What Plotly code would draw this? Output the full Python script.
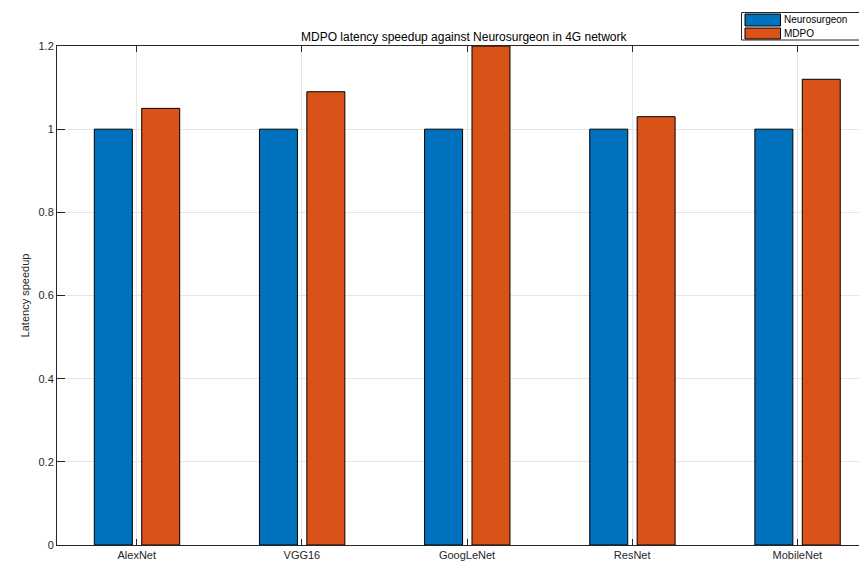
import plotly.graph_objects as go

categories = ["AlexNet", "VGG16", "GoogLeNet", "ResNet", "MobileNet"]
neurosurgeon = [1.0, 1.0, 1.0, 1.0, 1.0]
mdpo = [1.05, 1.09, 1.2, 1.03, 1.12]
series_names = ["Neurosurgeon", "MDPO"]
colors = ["#0072BD", "#D95319"]
yticks = [0, 0.2, 0.4, 0.6, 0.8, 1.0, 1.2]

# page body has an 8px default margin; work in screen pixels and shift
OFF = 8
W, H = 867 - OFF, 565 - OFF
L, R, T, B = 57 - OFF, 867 - OFF, 46 - OFF, 545 - OFF
xpos = list(range(1, len(categories) + 1))

fig = go.Figure()
fig.add_trace(go.Bar(x=xpos, y=neurosurgeon, name=series_names[0], width=0.23, offset=-0.257,
                     marker=dict(color=colors[0], line=dict(color="#000000", width=1)), showlegend=False))
fig.add_trace(go.Bar(x=xpos, y=mdpo, name=series_names[1], width=0.23, offset=0.03,
                     marker=dict(color=colors[1], line=dict(color="#000000", width=1)), showlegend=False))

def px(x):
    return (x - OFF - L) / (R - L)

def py(y):
    return (B - (y - OFF)) / (B - T)

shapes = [
    dict(type="rect", xref="paper", yref="paper", x0=px(741.5), x1=px(859.5), y0=py(40), y1=py(12.5),
         line=dict(color="#262626", width=1), fillcolor="white", layer="above"),
    dict(type="rect", xref="paper", yref="paper", x0=px(745), x1=px(780.5), y0=py(26), y1=py(14),
         line=dict(color="#000000", width=1), fillcolor=colors[0]),
    dict(type="rect", xref="paper", yref="paper", x0=px(745), x1=px(780.5), y0=py(39), y1=py(28),
         line=dict(color="#000000", width=1), fillcolor=colors[1]),
]
annotations = [
    dict(text=series_names[0], xref="paper", yref="paper", x=px(782), y=py(20), xanchor="left",
         yanchor="middle", showarrow=False, font=dict(size=10, color="#000000")),
    dict(text=series_names[1], xref="paper", yref="paper", x=px(782), y=py(33.5), xanchor="left",
         yanchor="middle", showarrow=False, font=dict(size=10, color="#000000")),
    dict(text="MDPO latency speedup against Neurosurgeon in 4G network", xref="paper", yref="paper",
         x=px(465), y=py(37), xanchor="center", yanchor="middle", showarrow=False,
         font=dict(size=12, color="#000000")),
]

fig.update_layout(
    width=W, height=H,
    margin=dict(l=L, r=W - R, t=T, b=H - B, pad=0, autoexpand=False),
    paper_bgcolor="white", plot_bgcolor="white",
    font=dict(family="Liberation Sans, Arial, sans-serif", size=11, color="#262626"),
    barmode="overlay",
    shapes=shapes, annotations=annotations,
    xaxis=dict(range=[0.517, 5.422], tickmode="array", tickvals=xpos, ticktext=categories,
               showgrid=True, gridcolor="#e5e5e5", gridwidth=1,
               showline=True, linecolor="#262626", linewidth=1, mirror="ticks",
               ticks="inside", ticklen=6, tickcolor="#262626", zeroline=False,
               tickfont=dict(size=11, color="#262626"), automargin=False),
    yaxis=dict(range=[0, 1.2], tickmode="array", tickvals=yticks,
               showgrid=True, gridcolor="#e5e5e5", gridwidth=1,
               showline=True, linecolor="#262626", linewidth=1,
               ticks="inside", ticklen=8, tickcolor="#262626", zeroline=False,
               tickfont=dict(size=11, color="#262626"), automargin=False,
               title=dict(text="Latency speedup", font=dict(size=11, color="#262626"), standoff=6)),
)

fig.write_html("out.html")
